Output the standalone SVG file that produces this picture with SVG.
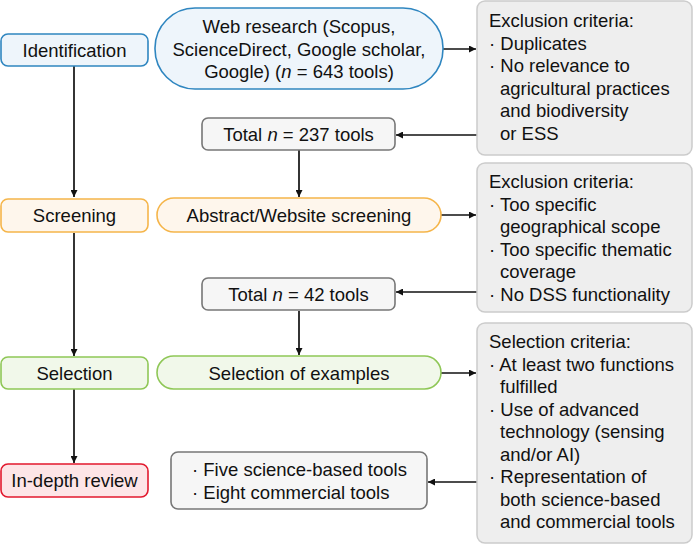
<svg xmlns="http://www.w3.org/2000/svg" width="694" height="544" viewBox="0 0 694 544">
<style>
text{font-family:"Liberation Sans",Arial,sans-serif;font-size:18.5px;fill:#111}
.c{text-anchor:middle}
.blue{fill:#eef5fb;stroke:#2f86c0;stroke-width:1.6}
.orange{fill:#fef6ec;stroke:#f5b54a;stroke-width:1.6}
.green{fill:#f1f8ea;stroke:#8fc757;stroke-width:1.6}
.red{fill:#fde5e7;stroke:#e2192e;stroke-width:1.6}
.gray{fill:#f6f6f6;stroke:#777;stroke-width:1.6}
.crit{fill:#eeeeee;stroke:#cccccc;stroke-width:1.5}
.ln{stroke:#111;stroke-width:1.7;fill:none;marker-end:url(#ah)}
</style>
<defs>
<marker id="ah" viewBox="0 0 10 10" refX="10" refY="5" markerWidth="7" markerHeight="7" markerUnits="userSpaceOnUse" orient="auto">
<path d="M0,0 L10,5 L0,10 z" fill="#111"/>
</marker>
</defs>
<g id="connectors">
<line class="ln" x1="74" y1="66" x2="74" y2="197"/>
<line class="ln" x1="74" y1="233" x2="74" y2="356"/>
<line class="ln" x1="74" y1="389" x2="74" y2="463"/>
<line class="ln" x1="443" y1="49" x2="476" y2="49"/>
<line class="ln" x1="477" y1="135" x2="396" y2="135"/>
<line class="ln" x1="299" y1="150" x2="299" y2="197"/>
<line class="ln" x1="441" y1="215" x2="476" y2="215"/>
<line class="ln" x1="477" y1="292" x2="396" y2="292"/>
<line class="ln" x1="299" y1="311" x2="299" y2="355"/>
<line class="ln" x1="441" y1="373" x2="476" y2="373"/>
<line class="ln" x1="477" y1="482" x2="428" y2="482"/>
</g>
<g id="identification">
<rect class="blue" x="1" y="34" width="147" height="32" rx="7"/>
<text class="c" x="74.5" y="56.5">Identification</text>
</g>
<g id="screening">
<rect class="orange" x="1" y="199" width="147" height="33" rx="7"/>
<text class="c" x="74.5" y="222">Screening</text>
</g>
<g id="selection">
<rect class="green" x="1" y="357" width="147" height="32" rx="7"/>
<text class="c" x="74.5" y="379.5">Selection</text>
</g>
<g id="in-depth-review">
<rect class="red" x="1" y="464" width="147" height="33" rx="7"/>
<text class="c" x="74.5" y="487">In-depth review</text>
</g>
<g id="web-research">
<rect class="blue" x="155" y="8" width="288" height="81" rx="40"/>
<text class="c" x="299" y="33">Web research (Scopus,</text>
<text class="c" x="299" y="55.5">ScienceDirect, Google scholar,</text>
<text class="c" x="299" y="78">Google) (<tspan font-style="italic">n</tspan> = 643 tools)</text>
</g>
<g id="total-237">
<rect class="gray" x="202" y="118" width="193" height="32" rx="6"/>
<text class="c" x="298.5" y="140.5">Total <tspan font-style="italic">n</tspan> = 237 tools</text>
</g>
<g id="abstract-screening">
<rect class="orange" x="157" y="198" width="284" height="34" rx="17"/>
<text class="c" x="299" y="222">Abstract/Website screening</text>
</g>
<g id="total-42">
<rect class="gray" x="202" y="278" width="193" height="32" rx="6"/>
<text class="c" x="298.5" y="300.5">Total <tspan font-style="italic">n</tspan> = 42 tools</text>
</g>
<g id="selection-of-examples">
<rect class="green" x="157" y="356" width="284" height="33" rx="16.5"/>
<text class="c" x="299" y="379.5">Selection of examples</text>
</g>
<g id="final-tools">
<rect class="gray" x="171" y="452" width="256" height="57" rx="7"/>
<text x="192" y="476">· Five science-based tools</text>
<text x="192" y="498.5">· Eight commercial tools</text>
</g>
<g id="exclusion-criteria-1">
<rect class="crit" x="477" y="1" width="215" height="154" rx="8"/>
<text x="489" y="27">Exclusion criteria:</text>
<text x="489" y="49.5">· Duplicates</text>
<text x="489" y="72">· No relevance to</text>
<text x="500" y="94.5">agricultural practices</text>
<text x="500" y="117">and biodiversity</text>
<text x="500" y="139.5">or ESS</text>
</g>
<g id="exclusion-criteria-2">
<rect class="crit" x="477" y="163" width="215" height="149" rx="8"/>
<text x="489" y="188">Exclusion criteria:</text>
<text x="489" y="210.5">· Too specific</text>
<text x="500" y="233">geographical scope</text>
<text x="489" y="255.5">· Too specific thematic</text>
<text x="500" y="278">coverage</text>
<text x="489" y="300.5">· No DSS functionality</text>
</g>
<g id="selection-criteria">
<rect class="crit" x="477" y="323" width="215" height="220" rx="8"/>
<text x="489" y="348">Selection criteria:</text>
<text x="489" y="370.5">· At least two functions</text>
<text x="500" y="393">fulfilled</text>
<text x="489" y="415.5">· Use of advanced</text>
<text x="500" y="438">technology (sensing</text>
<text x="500" y="460.5">and/or AI)</text>
<text x="489" y="483">· Representation of</text>
<text x="500" y="505.5">both science-based</text>
<text x="500" y="528">and commercial tools</text>
</g>
</svg>
